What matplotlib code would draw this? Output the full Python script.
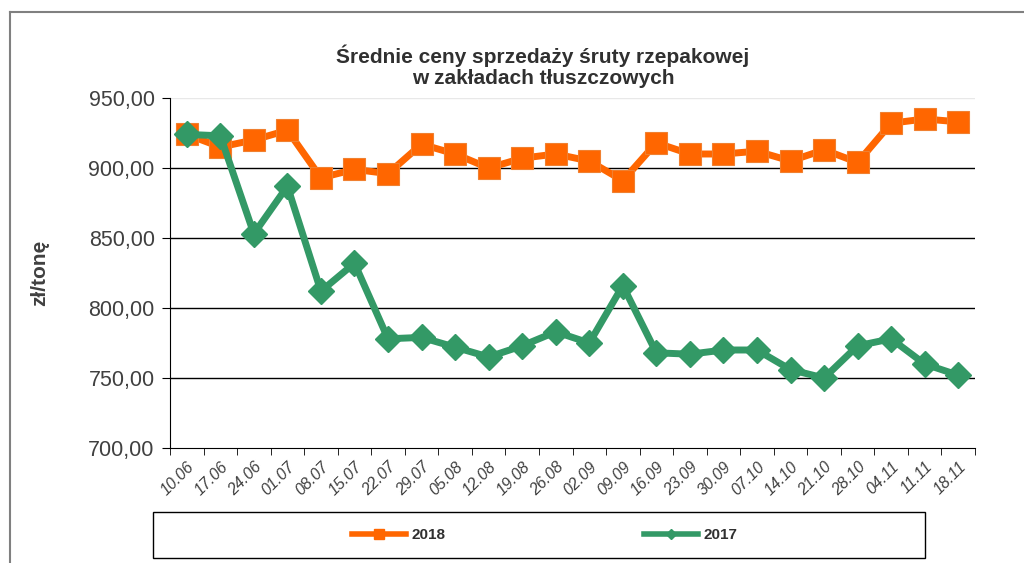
import matplotlib
matplotlib.use("Agg")
import matplotlib.pyplot as plt
from matplotlib.lines import Line2D
from matplotlib.patches import Rectangle

plt.rcParams["font.family"] = ["Liberation Sans", "DejaVu Sans"]

categories = ["10.06", "17.06", "24.06", "01.07", "08.07", "15.07", "22.07", "29.07",
              "05.08", "12.08", "19.08", "26.08", "02.09", "09.09", "16.09", "23.09",
              "30.09", "07.10", "14.10", "21.10", "28.10", "04.11", "11.11", "18.11"]
values_2018 = [924, 915, 920, 927, 893, 899, 896, 917, 910, 900, 907, 910,
               905, 891, 918, 910, 910, 912, 905, 913, 904, 932, 935, 933]
values_2017 = [924, 923, 853, 887, 812, 832, 778, 779, 772, 765, 773, 783,
               775, 816, 768, 767, 770, 770, 756, 750, 773, 778, 760, 752]
yticks = [700, 750, 800, 850, 900, 950]
ytick_labels = ["700,00", "750,00", "800,00", "850,00", "900,00", "950,00"]

orange = "#FF6600"
green = "#339966"
textc = "#404040"

fig = plt.figure(figsize=(10.24, 5.63), dpi=100)
ax = fig.add_axes([170/1024, 1-448/563, (975-170)/1024, (448-98)/563])

x = list(range(len(categories)))
ax.plot(x, values_2018, color=orange, lw=5, marker="s", ms=15.5, mec="#F08030",
        mew=0.8, zorder=3, solid_joinstyle="round")
ax.plot(x, values_2017, color=green, lw=5, marker="D", ms=13.5, mec=green,
        zorder=4, solid_joinstyle="round")

ax.set_xlim(-0.5, len(categories) - 0.5)
ax.set_ylim(700, 950)
ax.set_yticks(yticks)
ax.set_yticklabels(ytick_labels, fontsize=15.5, color=textc)
for yv in yticks[1:-1]:
    ax.axhline(yv, color="black", lw=1, zorder=1)
ax.axhline(950, color="#e8e8e8", lw=1, zorder=1)

ax.set_xticks(x)
ax.set_xticklabels(categories, rotation=45, ha="right", rotation_mode="anchor",
                   fontsize=11.5, style="italic", color=textc)
ax.set_xticks([i - 0.5 for i in range(len(categories) + 1)], minor=True)
ax.tick_params(axis="x", which="major", length=0, pad=8)
ax.tick_params(axis="x", which="minor", length=5, color="black", direction="out")
ax.tick_params(axis="y", length=6, color="black", direction="out", pad=5)

for s in ["top", "right"]:
    ax.spines[s].set_visible(False)
ax.spines["left"].set_color("black")
ax.spines["bottom"].set_color("black")

ax.set_ylabel("zł/tonę", fontsize=15, fontweight="bold", labelpad=28, color=textc)

fig.text(543/1024, 1-66/563, "Średnie ceny sprzedaży śruty rzepakowej\nw zakładach tłuszczowych",
         ha="center", va="center", fontsize=15, fontweight="bold", color="#303030",
         linespacing=1.1)

# outer frame
fig.add_artist(Line2D([10/1024, 10/1024], [0, 1-12/563], transform=fig.transFigure,
                      color="#808080", lw=1.5))
fig.add_artist(Line2D([10/1024, 1], [1-12/563, 1-12/563], transform=fig.transFigure,
                      color="#808080", lw=1.5))

# legend box
fig.add_artist(Rectangle((153/1024, 1-558/563), (925-153)/1024, (558-512)/563,
                         transform=fig.transFigure, fill=False, edgecolor="black", lw=1))
handles = [Line2D([], [], color=orange, lw=4, marker="s", ms=7),
           Line2D([], [], color=green, lw=4, marker="D", ms=5)]
fig.legend(handles, ["2018", "2017"], loc="center", ncol=2,
           bbox_to_anchor=(545/1024, 1-535/563), frameon=False,
           prop={"weight": "bold", "size": 11}, handlelength=3.5, labelcolor="#303030",
           columnspacing=13, handletextpad=0.4)

fig.savefig("out.png", dpi=100)
